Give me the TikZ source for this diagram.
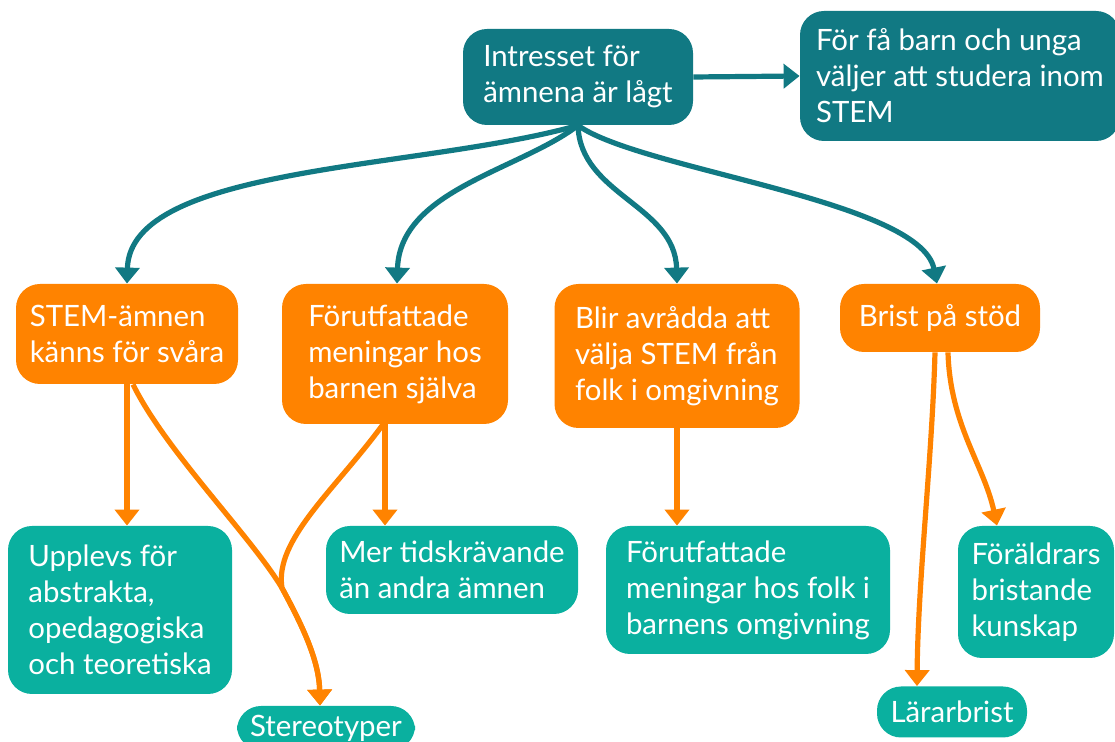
\documentclass[tikz,border=0pt]{standalone}
\usepackage{fontspec}
\setmainfont{Lato}
\usetikzlibrary{arrows.meta}

\definecolor{petrol}{RGB}{17,121,131}
\definecolor{orangebox}{RGB}{255,131,0}
\definecolor{mint}{RGB}{10,176,159}

\begin{document}
\begin{tikzpicture}[x=0.5pt, y=-0.5pt,
  box/.style={rounded corners=12pt, text=white, align=left, inner xsep=6pt, font=\fontsize{14.7}{18}\selectfont},
  topbox/.style={box, fill=petrol},
  causebox/.style={box, fill=orangebox},
  effectbox/.style={box, fill=mint},
  tealarrow/.style={petrol, line width=2.6pt, -{Triangle[width=12pt,length=8pt]}},
  orangearrow/.style={orangebox, line width=2.6pt, -{Triangle[width=12pt,length=8pt]}}]

  \clip (0,0) rectangle (1115,742);

  % Top row
  \node[topbox, minimum width=115pt, minimum height=48pt] (root) at (578,77) {Intresset för\\ämnena är lågt};
  \node[topbox, minimum width=160pt, minimum height=65pt] (result) at (960,76) {För få barn och unga\\väljer att studera inom\\STEM};

  % Causes
  \node[causebox, minimum width=111pt, minimum height=50pt] (hard) at (127,334) {STEM-ämnen\\känns för svåra};
  \node[causebox, minimum width=113pt, minimum height=70pt] (prejudice) at (395,354) {Förutfattade\\meningar hos\\barnen själva};
  \node[causebox, minimum width=122.5pt, minimum height=72pt] (advised) at (677,356) {Blir avrådda att\\välja STEM från\\folk i omgivning};
  \node[causebox, minimum width=100pt, minimum height=34pt] (support) at (940,318) {Brist på stöd};

  % Effects
  \node[effectbox, minimum width=112pt, minimum height=84pt] (abstract) at (120,610) {Upplevs för\\abstrakta,\\opedagogiska\\och teoretiska};
  \node[effectbox, minimum width=126pt, minimum height=44pt] (time) at (452,570) {Mer tidskrävande\\än andra ämnen};
  \node[effectbox, minimum width=142pt, minimum height=64pt] (surround) at (748,590) {Förutfattade\\meningar hos folk i\\barnens omgivning};
  \node[effectbox, minimum width=78pt, minimum height=66pt] (parents) at (1036,592) {Föräldrars\\bristande\\kunskap};
  \node[effectbox, minimum width=89pt, minimum height=22pt] (stereo) at (326,728) {Stereotyper};
  \node[effectbox, minimum width=75pt, minimum height=25.5pt] (teachers) at (952,712) {Lärarbrist};

  % where the two stereotype lines meet
  \coordinate (merge) at (282,588);

  % Teal connectors
  \draw[tealarrow] (root.east) -- (result.west);
  \draw[tealarrow] (root.south) .. controls (420,170) and (130,165) .. (hard.north);
  \draw[tealarrow] (root.south) .. controls (520,170) and (400,190) .. ([xshift=1pt]prejudice.north);
  \draw[tealarrow] (root.south) .. controls (580,195) and (675,205) .. (advised.north);
  \draw[tealarrow] (root.south) .. controls (640,170) and (920,200) .. ([xshift=-1.5pt]support.north);

  % Orange connectors
  \draw[orangearrow] (hard.south) -- (hard.south |- abstract.north);
  \draw[orangearrow] ([xshift=3pt]hard.south) .. controls (165,450) and (250,535) .. (merge)
    .. controls (302,625) and (319,660) .. ([xshift=-3pt]stereo.north);
  \draw[orangearrow] ([xshift=-5pt]prejudice.south) -- ([xshift=-5pt]prejudice.south |- time.north);
  \draw[orangearrow] ([xshift=-6pt]prejudice.south) .. controls (335,490) and (274,540) .. (merge)
    .. controls (302,625) and (319,660) .. ([xshift=-3pt]stereo.north);
  \draw[orangearrow] (advised.south) -- (advised.south |- surround.north);
  \draw[orangearrow] ([xshift=-2.5pt]support.south) .. controls (932,460) and (918,580) .. ([xshift=-17.5pt]teachers.north);
  \draw[orangearrow] ([xshift=4pt]support.south) .. controls (950,425) and (984,465) .. ([xshift=-19.5pt]parents.north);
\end{tikzpicture}
\end{document}
